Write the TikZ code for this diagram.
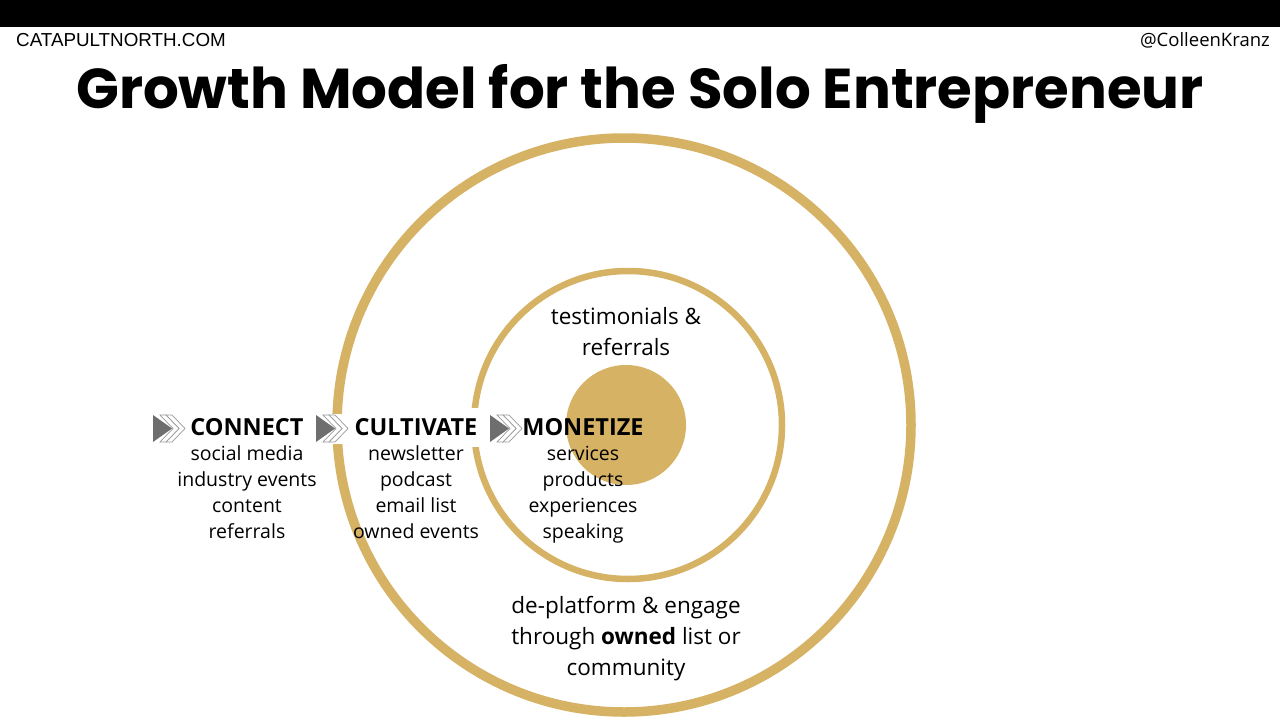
\documentclass[tikz,border=0pt]{standalone}
\usepackage{fontspec}
\setmainfont{Open Sans}
\newfontfamily\titlefont{Poppins}
\newfontfamily\hdrfont{Liberation Sans}
\definecolor{gold}{RGB}{214,178,100}
\definecolor{icongray}{RGB}{110,110,110}
\begin{document}
\begin{tikzpicture}[x=1pt,y=1pt,
  ring/.style={draw=gold},
  stage/.style={font=\fontsize{23.5}{28}\selectfont\bfseries, inner sep=0pt},
  items/.style={font=\fontsize{19.5}{26}\selectfont, align=center, inner sep=0pt},
  note/.style={font=\fontsize{22.5}{31}\selectfont, align=center, inner sep=0pt},
  chevron/.style={draw=icongray!70, line width=0.7pt, fill=white},
  head/.style={fill=icongray, draw=none},
  chevicon/.pic={
    \fill[white] (-3,-15) rectangle (36,15);
    \draw[chevron] (13,13.5) -- (19,13.5) -- (32,0) -- (19,-13.5) -- (13,-13.5) -- (26,0) -- cycle;
    \draw[chevron] (7,13.5) -- (13,13.5) -- (26,0) -- (13,-13.5) -- (7,-13.5) -- (20,0) -- cycle;
    \fill[head] (0,13.5) -- (19,0) -- (0,-13.5) -- cycle;
  }
]
\useasboundingbox (0,0) rectangle (1280,-720);
\fill[white] (0,0) rectangle (1280,-720);
% top bar
\fill[black] (0,0) rectangle (1280,-27);
\node[anchor=base west, inner sep=0pt, font=\hdrfont\fontsize{18.8}{20}\selectfont] (site) at (16,-46) {CATAPULTNORTH.COM};
\node[anchor=base east, inner sep=0pt, font=\fontsize{18.5}{20}\selectfont] (handle) at (1270,-46) {@ColleenKranz};
\node[anchor=base, inner sep=0pt, font=\titlefont\bfseries\fontsize{56.2}{60}\selectfont] (title) at (640,-108) {Growth Model for the Solo Entrepreneur};
% rings
\draw[ring, line width=9.5] (624,-425) circle (287);
\draw[ring, line width=6.5] (628,-425) circle (154);
\fill[gold] (626,-425) circle (60) node (core) {};
% icons
\pic (i1) at (153,-428.5) {chevicon};
\pic (i2) at (316,-428.5) {chevicon};
\fill[white] (470,-408) rectangle (490,-447);
\pic (i3) at (490,-428.5) {chevicon};
% stage labels
\node[stage] (connect) at (247,-427) {CONNECT};
\node[stage] (cultivate) at (416,-427) {CULTIVATE};
\node[stage] (monetize) at (583,-427) {MONETIZE};
\node[items] (connectitems) at (247,-492) {social media\\industry events\\content\\referrals};
\node[items] (cultivateitems) at (416,-492) {newsletter\\podcast\\email list\\owned events};
\node[items] (monetizeitems) at (583,-494.5) {services\\products\\experiences\\speaking};
\node[note] (testimonials) at (626,-332) {testimonials \&\\referrals};
\node[note] (deplatform) at (626,-639) {de-platform \& engage\\through \textbf{owned} list or\\community};
\end{tikzpicture}
\end{document}
